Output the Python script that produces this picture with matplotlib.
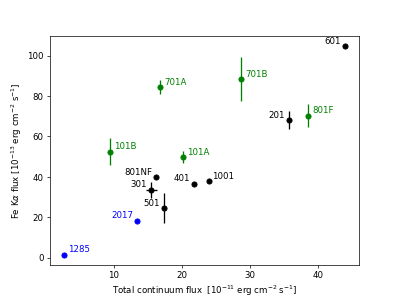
import matplotlib
matplotlib.use('Agg')
import matplotlib.pyplot as plt

# observation labels, continuum flux (1e-11), Fe Ka flux (1e-13), errors, colour
names = ['1285', '2017', '801NF', '301', '501', '401', '1001',
         '101A', '101B', '701A', '701B', '201', '801F', '601']
cont = [2.7, 13.4, 16.2, 15.5, 17.3, 21.7, 23.9,
        20.2, 9.5, 16.8, 28.7, 35.7, 38.5, 43.9]
fek = [1.5, 18.2, 39.8, 33.7, 24.5, 36.7, 37.8,
       49.7, 52.5, 84.3, 88.3, 68.0, 70.2, 104.7]
cont_err = [0, 0, 0, 0.8, 0, 0, 0,
            0, 0, 0, 0, 0, 0, 0]
fek_err = [0, 0, 0, 4.0, 7.3, 0, 0,
           3.0, 6.5, 3.5, 11.0, 4.5, 5.6, 0]
colors = ['blue', 'blue', 'black', 'black', 'black', 'black', 'black',
          'green', 'green', 'green', 'green', 'black', 'green', 'black']
# which side the label goes on
side = ['r', 'l', 'l', 'l', 'l', 'l', 'r',
        'r', 'r', 'r', 'r', 'l', 'r', 'l']

# default 6.4x4.8 figure, just saved at a low dpi
fig, ax = plt.subplots(figsize=(6.41, 4.79))

for i in range(len(names)):
    ax.errorbar(cont[i], fek[i],
                xerr=cont_err[i] if cont_err[i] else None,
                yerr=fek_err[i] if fek_err[i] else None,
                fmt='o', color=colors[i], ecolor=colors[i])
    if side[i] == 'r':
        off, ha = (4.5, 6), 'left'
    else:
        off, ha = (-4.5, 6), 'right'
    ax.annotate(names[i], (cont[i], fek[i]), xytext=off, textcoords='offset points',
                ha=ha, va='center', color=colors[i])

ax.set_xticks([10, 20, 30, 40])
ax.set_yticks([0, 20, 40, 60, 80, 100])
ax.set_xlabel('Total continuum flux  [10$^{-11}$ erg cm$^{-2}$ s$^{-1}$]')
ax.set_ylabel(r'Fe K$\alpha$ flux [10$^{-13}$ erg cm$^{-2}$ s$^{-1}$]')

fig.savefig('out.png', dpi=62.25)
